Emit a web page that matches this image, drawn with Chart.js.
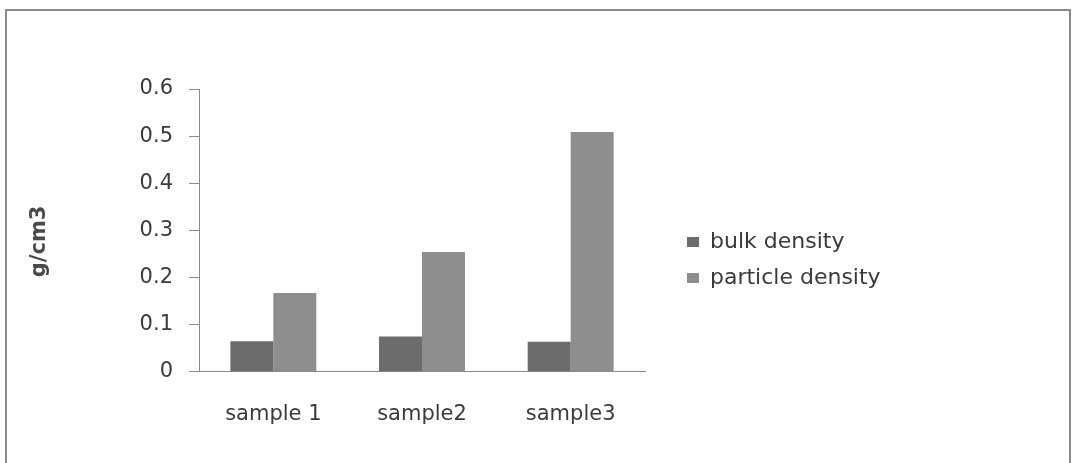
<!DOCTYPE html>
<html><head><meta charset="utf-8">
<script src="https://cdn.jsdelivr.net/npm/chart.js@4"></script>
<style>
html,body{margin:0;padding:0;background:#fff;}
#wrap{position:relative;width:1073px;height:463px;overflow:hidden;background:#fff;}
#frame{position:absolute;left:5px;top:9px;width:1066px;height:480px;box-sizing:border-box;border:2px solid #8c8c8c;}
canvas{position:absolute;left:0;top:0;}
</style></head><body>
<div id="wrap"><div id="frame"></div><canvas id="c" width="1073" height="463"></canvas></div>
<script>
const categories = ['sample 1', 'sample2', 'sample3'];
const seriesNames = ['bulk density', 'particle density'];
const bulkDensity = [0.065, 0.075, 0.064];
const particleDensity = [0.167, 0.254, 0.509];
const yTickLabels = ['0', '0.1', '0.2', '0.3', '0.4', '0.5', '0.6'];
const yTitle = 'g/cm3';

const FONT = 'DejaVu Sans';
const FS = 21;
const LFS = 22;
const textColor = '#3a3a3a';
const axisColor = '#8a8a8a';

// legend geometry (measured so the legend sits where the reference has it)
const legPad = 14, boxW = 12, boxH = 10;
const mctx = document.createElement('canvas').getContext('2d');
mctx.font = LFS + 'px "' + FONT + '"';
const textW = Math.max(...seriesNames.map(s => mctx.measureText(s).width));
const legendW = legPad + boxW + LFS / 2 + textW + 10;
const legendLeft = 673;
const plotRight = 645;
const padRight = 1073 - legendLeft - legendW;

new Chart(document.getElementById('c'), {
  type: 'bar',
  data: {
    labels: categories,
    datasets: [
      { label: seriesNames[0], data: bulkDensity, backgroundColor: '#6c6c6c', borderWidth: 0 },
      { label: seriesNames[1], data: particleDensity, backgroundColor: '#8e8e8e', borderWidth: 0 }
    ]
  },
  options: {
    responsive: false,
    animation: false,
    devicePixelRatio: 1,
    layout: { padding: { left: 20, top: 89, right: padRight, bottom: 6 } },
    datasets: { bar: { categoryPercentage: 0.578, barPercentage: 1.0 } },
    plugins: {
      tooltip: { enabled: false },
      legend: {
        position: 'right',
        align: 'center',
        fullSize: false,
        maxWidth: 1000,
        title: { display: true, text: ' ', font: { size: 10, lineHeight: 1 }, padding: { top: 0, bottom: 49 } },
        labels: {
          boxWidth: boxW, boxHeight: boxH, padding: legPad,
          color: textColor,
          font: { family: FONT, size: LFS }
        }
      }
    },
    scales: {
      x: {
        grid: { display: false, drawTicks: false },
        border: { display: true, color: axisColor, width: 1 },
        ticks: { color: textColor, font: { family: FONT, size: FS }, padding: 30, maxRotation: 0 }
      },
      y: {
        min: 0, max: 0.6,
        grid: { drawOnChartArea: false, drawTicks: true, tickLength: 10, color: axisColor },
        border: { display: true, color: axisColor, width: 1 },
        ticks: {
          stepSize: 0.1, padding: 16, color: textColor,
          font: { family: FONT, size: FS },
          callback: (v, i) => yTickLabels[i]
        },
        title: {
          display: true, text: yTitle + '   ', color: '#4a4a4a',
          font: { family: FONT, size: FS, weight: 'bold' },
          padding: { top: 7, bottom: 0 }
        },
        afterFit: s => { s.width = 179; }
      },
      y2: {
        position: 'right',
        grid: { display: false, drawTicks: false },
        border: { display: false },
        ticks: { display: false },
        afterFit: s => { s.width = legendLeft - plotRight; }
      }
    }
  }
});
</script>
</body></html>
